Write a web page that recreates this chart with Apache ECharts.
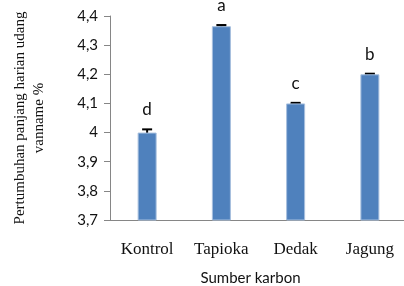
<!DOCTYPE html>
<html>
<head>
<meta charset="utf-8">
<script src="https://cdn.jsdelivr.net/npm/echarts@6/dist/echarts.min.js"></script>
<style>
  html, body { margin: 0; padding: 0; background: #fff; }
  #chart { width: 404px; height: 286px; }
</style>
</head>
<body>
<div id="chart"></div>
<script>
const categories = ['Kontrol', 'Tapioka', 'Dedak', 'Jagung'];
const growth = [4.0, 4.365, 4.1, 4.2];
const errors = [0.011, 0.004, 0.002, 0.002];
const letters = ['d', 'a', 'c', 'b'];
const yTicks = { min: 3.7, max: 4.4, interval: 0.1 };

const myChart = echarts.init(document.getElementById('chart'));

const option = {
    animation: false,
    grid: { left: 110, top: 16, width: 297, height: 204, outerBoundsMode: 'none', containLabel: false },
    xAxis: {
        type: 'category',
        data: categories,
        name: 'Sumber karbon',
        nameLocation: 'middle',
        nameGap: 51,
        nameTextStyle: {
            fontFamily: 'Lato', fontSize: 15, color: '#111',
            padding: [0, 16, 0, 0]
        },
        axisLine: { lineStyle: { color: '#868686', width: 1 } },
        axisTick: { show: false },
        axisLabel: {
            fontFamily: 'Liberation Serif', fontSize: 17, color: '#111', margin: 21
        }
    },
    yAxis: {
        type: 'value',
        min: yTicks.min,
        max: yTicks.max,
        interval: yTicks.interval,
        name: 'Pertumbuhan panjang harian udang\nvanname %',
        nameLocation: 'middle',
        nameRotate: 90,
        nameGap: 61,
        nameTextStyle: {
            fontFamily: 'Liberation Serif', fontSize: 15, color: '#111', lineHeight: 19
        },
        axisLine: { show: true, lineStyle: { color: '#868686', width: 1 } },
        axisTick: { show: true, length: 6, lineStyle: { color: '#868686' } },
        splitLine: { show: false },
        axisLabel: {
            fontFamily: 'Lato', fontSize: 15, color: '#111', margin: 12,
            formatter: v => String(Math.round(v * 10) / 10).replace('.', ',')
        }
    },
    series: [
        {
            type: 'bar',
            data: growth,
            barWidth: 19,
            itemStyle: { color: '#4F81BD', borderColor: '#A7BFDE', borderWidth: 1 }
        },
        {
            type: 'custom',
            data: growth.map((v, i) => [i, v, errors[i]]),
            renderItem: (params, api) => {
                const x = api.coord([api.value(0), 0])[0];
                const yHi = api.coord([api.value(0), api.value(1) + api.value(2)])[1];
                const yLo = api.coord([api.value(0), api.value(1) - api.value(2)])[1];
                const half = 5;
                const stroke = { stroke: '#000', lineWidth: 2 };
                return {
                    type: 'group',
                    children: [
                        { type: 'line', shape: { x1: x, y1: yHi, x2: x, y2: yLo }, style: stroke },
                        { type: 'line', shape: { x1: x - half, y1: yHi, x2: x + half, y2: yHi }, style: stroke },
                        { type: 'line', shape: { x1: x - half, y1: yLo, x2: x + half, y2: yLo }, style: stroke },
                        {
                            type: 'text',
                            style: {
                                text: letters[params.dataIndex],
                                x: x, y: yHi - 11,
                                align: 'center', verticalAlign: 'bottom',
                                font: '17px Lato', fill: '#111'
                            }
                        }
                    ]
                };
            }
        }
    ]
};

myChart.setOption(option);
</script>
</body>
</html>
